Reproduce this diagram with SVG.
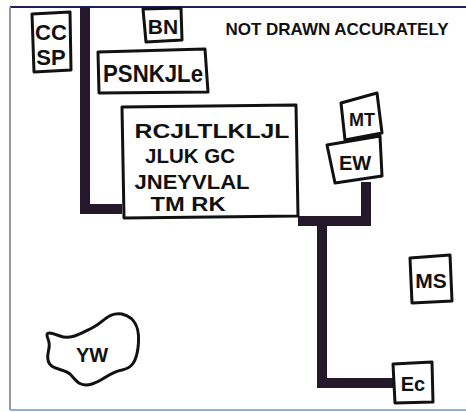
<svg xmlns="http://www.w3.org/2000/svg" width="466" height="412" viewBox="0 0 466 412">
<style>
.box{fill:#fff;stroke:#111;stroke-width:3;stroke-linejoin:round}
.t{font-family:"Liberation Sans",Arial,sans-serif;font-weight:bold;fill:#111;text-anchor:middle}
.wire{fill:none;stroke:#24182a;stroke-width:10;stroke-linejoin:miter;stroke-linecap:butt}
</style>
<rect x="0" y="0" width="466" height="412" fill="#fff"/>
<g id="frame">
<line x1="10" y1="7" x2="466" y2="7" stroke="#1a2060" stroke-width="2"/>
<line x1="10" y1="7" x2="10" y2="410" stroke="#999" stroke-width="2"/>
<line x1="10" y1="410" x2="466" y2="410" stroke="#8fb0d8" stroke-width="2"/>
</g>
<g id="connectors">
<path class="wire" d="M85,7 L85,209 L122,209"/>
<path class="wire" d="M298,221 L366,221 L366,182"/>
<path class="wire" d="M322,221 L322,383 L395,383"/>
</g>
<g id="node-ccsp">
<path class="box" d="M32,14 L70,12 L71,70 L34,72 Z"/>
<text class="t" x="51" y="40" font-size="22">CC</text>
<text class="t" x="51" y="65" font-size="22">SP</text>
</g>
<g id="node-bn">
<path class="box" d="M143,9 L181,8 L182,40 L146,42 Z"/>
<text class="t" x="163" y="34" font-size="21">BN</text>
</g>
<g id="node-psnk">
<path class="box" d="M98,52 L205,49 L208,92 L99,93 Z"/>
<text class="t" x="153" y="82" font-size="23" textLength="100" lengthAdjust="spacingAndGlyphs">PSNKJLe</text>
</g>
<g id="node-note">
<text class="t" x="337" y="35" font-size="17">NOT DRAWN ACCURATELY</text>
</g>
<g id="node-main">
<path class="box" d="M122,107 L296,105 L298,216 L124,218 Z"/>
<text class="t" x="212" y="138" font-size="21" textLength="155" lengthAdjust="spacingAndGlyphs">RCJLTLKLJL</text>
<text class="t" x="190" y="163" font-size="21" textLength="90" lengthAdjust="spacingAndGlyphs">JLUK GC</text>
<text class="t" x="192" y="189" font-size="21" textLength="115" lengthAdjust="spacingAndGlyphs">JNEYVLAL</text>
<text class="t" x="188" y="211" font-size="21" textLength="75" lengthAdjust="spacingAndGlyphs">TM RK</text>
</g>
<g id="node-mt">
<path class="box" d="M341,103 L377,93 L382,133 L345,140 Z"/>
<text class="t" x="362" y="126" font-size="18">MT</text>
</g>
<g id="node-ew">
<path class="box" d="M327,145 L380,136 L382,176 L335,183 Z"/>
<text class="t" x="355" y="170" font-size="20">EW</text>
</g>
<g id="node-ms">
<path class="box" d="M410,258 L450,255 L452,301 L412,303 Z"/>
<text class="t" x="431" y="288" font-size="21">MS</text>
</g>
<g id="node-ec">
<path class="box" d="M393,364 L432,362 L433,402 L395,403 Z"/>
<text class="t" x="413" y="391" font-size="20">Ec</text>
</g>
<g id="node-yw">
<path class="box" d="M48,339 C44,330 52,333 60,336 C70,340 80,334 92,328 C104,322 108,312 122,314 C138,318 140,332 138,348 C136,362 132,368 122,370 C110,372 104,380 92,384 C80,388 76,380 70,374 C62,368 50,370 48,360 C46,352 52,348 48,339 Z"/>
<text class="t" x="92" y="362" font-size="20">YW</text>
</g>
</svg>
